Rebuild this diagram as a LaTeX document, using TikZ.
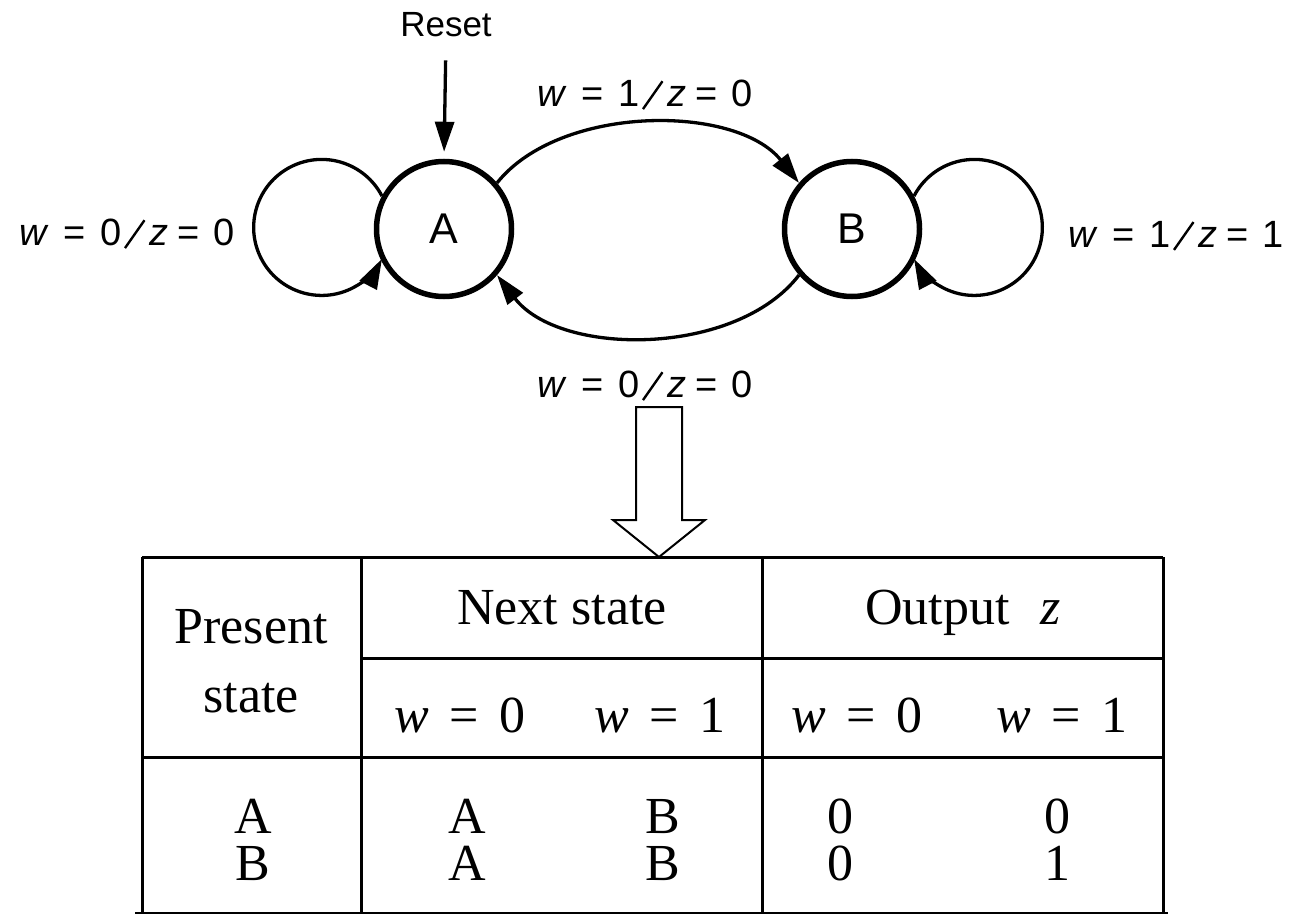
\documentclass[tikz,border=0pt]{standalone}
\usepackage{fontspec}
\usepackage{graphicx}
\setmainfont{Liberation Serif}
\newfontfamily\arialf{Liberation Sans}
\usetikzlibrary{arrows.meta}
\newcommand{\slantbar}{\raisebox{-3pt}{\rotatebox{55}{\rule{34pt}{2.4pt}}}}
\newcommand{\trlabel}[2]{\textit{w}\hspace{15pt}=\hspace{15pt}#1\hspace{2pt}\slantbar\hspace{4pt}\textit{z}\hspace{9pt}=\hspace{14pt}#2}
\begin{document}
\begin{tikzpicture}[x=1pt,y=-1pt,
  state/.style={circle,draw,line width=5.5pt,minimum size=135pt,inner sep=0pt,font=\arialf\fontsize{43}{50}\selectfont},
  lbl/.style={font=\arialf\fontsize{38}{44}\selectfont,inner sep=0pt},
  edge/.style={line width=3.3pt,-{Triangle[length=30pt,width=19pt]}},
  tbl/.style={font=\fontsize{52}{62}\selectfont,inner sep=0pt,anchor=base},
  rule/.style={line width=3pt},
  hollow/.style={line width=2pt,fill=white}
]
\useasboundingbox (0,0) rectangle (1291,915);
% states
\node[state] (A) at (444,229) {A};
\node[state] (B) at (852,229) {B};
% reset
\node[font=\arialf\fontsize{35}{42}\selectfont,inner sep=0pt] (reset) at (446,25) {Reset};
\draw[edge,shorten <=23pt,shorten >=7pt] (reset.south) -- (A.north);
% transitions
\draw[edge] (A.152) arc[start angle=27.5,end angle=332.5,radius=68pt];
\draw[edge] (B.28) arc[start angle=152.5,end angle=-152.5,radius=68pt];
\draw[edge] (A.41) .. controls (560,104) and (736,104) .. (B.139);
\draw[edge] (B.-139) .. controls (736,357) and (560,357) .. (A.-41);
% labels
\node[lbl] (l1) at (645,95) {\trlabel{1}{0}};
\node[lbl] (l2) at (127,234) {\trlabel{0}{0}};
\node[lbl] (l3) at (1176,236) {\trlabel{1}{1}};
\node[lbl] (l4) at (645,386) {\trlabel{0}{0}};
% table rules
\draw[rule] (142,557) -- (1163,557);
\draw[rule] (142,557) -- (142,913);
\draw[rule] (361,557) -- (361,913);
\draw[rule] (762,557) -- (762,913);
\draw[rule] (1163,557) -- (1163,913);
\draw[rule] (361,658) -- (1163,658);
\draw[rule] (142,757) -- (1163,757);
\draw[line width=1.5pt] (135,913) -- (1168,913);
% hollow arrow
\draw[hollow] (636,407) -- (682,407) -- (682,520) -- (705,520) -- (659,557) -- (613,520) -- (636,520) -- cycle;
% table text
\node[tbl] (ps1) at (251,643) {Present};
\node[tbl] (ps2) at (251,712) {state};
\node[tbl] (ns) at (562,624) {Next state};
\node[tbl] (oz) at (963,624) {Output\hspace{.6em}\textit{z}};
\node[tbl] (h1) at (460,732) {\textit{w}\hspace{.4em}=\hspace{.4em}0};
\node[tbl] (h2) at (660,732) {\textit{w}\hspace{.4em}=\hspace{.4em}1};
\node[tbl] (h3) at (857,732) {\textit{w}\hspace{.4em}=\hspace{.4em}0};
\node[tbl] (h4) at (1062,732) {\textit{w}\hspace{.4em}=\hspace{.4em}1};
\node[tbl] (r1a) at (253,833) {A};
\node[tbl] (r1b) at (467,833) {A};
\node[tbl] (r1c) at (663,833) {B};
\node[tbl] (r1d) at (840,833) {0};
\node[tbl] (r1e) at (1057,833) {0};
\node[tbl] (r2a) at (253,880) {B};
\node[tbl] (r2b) at (467,880) {A};
\node[tbl] (r2c) at (663,880) {B};
\node[tbl] (r2d) at (840,880) {0};
\node[tbl] (r2e) at (1057,880) {1};
\end{tikzpicture}
\end{document}
